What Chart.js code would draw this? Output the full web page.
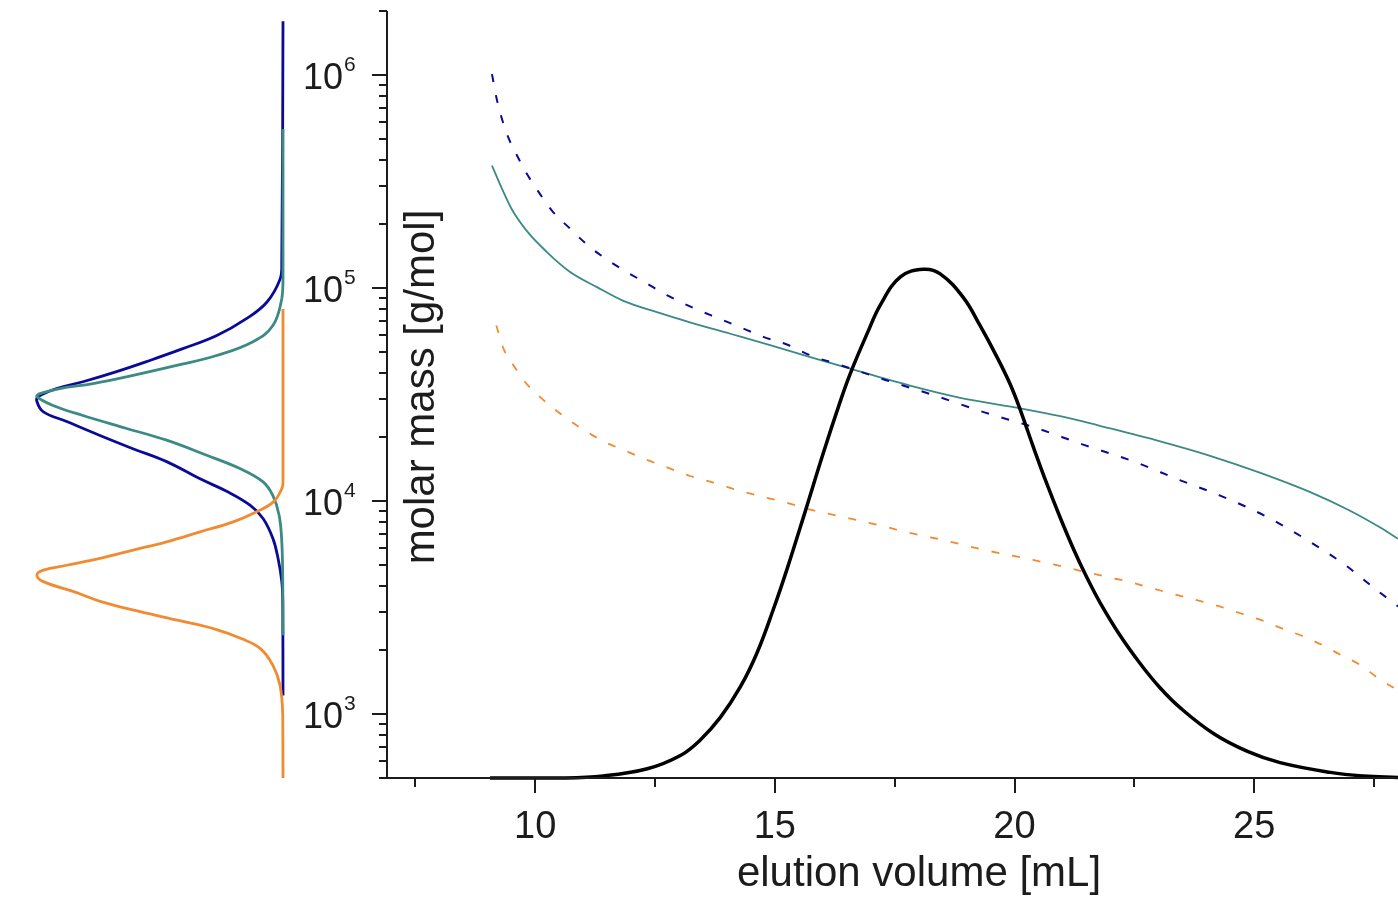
<!DOCTYPE html>
<html lang="en">
<head>
  <meta charset="UTF-8"/>
  <title>Molar mass vs. elution volume</title>
  <script src="https://cdn.jsdelivr.net/npm/chart.js"></script>
  <style>
    html, body { margin: 0; padding: 0; background: #fff; }
    #wrap { position: relative; width: 1398px; height: 902px; overflow: hidden; }
    #wrap canvas { position: absolute; top: 0; left: 0; }
  </style>
</head>
<body>
  <div id="wrap">
    <canvas id="mainChart" width="1398" height="902"></canvas>
    <canvas id="distChart" width="290" height="902"></canvas>
  </div>

  <script>
    // detector trace (arbitrary units)
    const elutionVolume = [9.06, 10.5, 11.42, 12.34, 13.03, 13.44, 13.86, 14.28, 14.63, 14.97, 15.26, 15.63, 16.01, 16.36, 16.57, 16.93, 17.2, 17.62, 18.1, 18.45, 18.93, 19.28, 19.63, 19.91, 20.12, 20.39, 20.68, 20.95, 21.23, 21.51, 21.79, 22.2, 22.62, 23.04, 23.46, 24.15, 24.86, 25.54, 26.59, 27.28, 28.0];
    const detectorSignal = [0, 0, 0.004, 0.018, 0.044, 0.074, 0.118, 0.178, 0.245, 0.33, 0.41, 0.52, 0.635, 0.735, 0.79, 0.87, 0.925, 0.98, 0.995, 0.986, 0.94, 0.885, 0.824, 0.77, 0.72, 0.648, 0.574, 0.51, 0.448, 0.392, 0.342, 0.279, 0.224, 0.176, 0.137, 0.087, 0.052, 0.03, 0.011, 0.004, 0.001];

    // molar mass curves
    const navyVolume = [9.10, 9.20, 9.31, 9.44, 9.62, 9.83, 10.10, 10.35, 10.73, 11.11, 11.52, 11.91, 12.33, 12.77, 13.23, 13.76, 14.24, 14.76, 15.28, 15.77, 16.29, 17.34, 18.35, 19.39, 20.43, 21.43, 22.46, 23.46, 24.29, 25.23, 26.13, 26.90, 27.50, 28.0];
    const navyMolarMass = [1.01e6, 7.7e5, 6.2e5, 5.1e5, 4.2e5, 3.43e5, 2.77e5, 2.31e5, 1.9e5, 1.58e5, 1.35e5, 1.19e5, 1.05e5, 9.2e4, 8.2e4, 7.3e4, 6.6e4, 5.9e4, 5.4e4, 4.8e4, 4.4e4, 3.68e4, 3.12e4, 2.6e4, 2.21e4, 1.84e4, 1.54e4, 1.25e4, 1.06e4, 8.5e3, 6.5e3, 5.0e3, 3.9e3, 3.2e3];

    const tealVolume = [9.10, 9.31, 9.51, 9.83, 10.24, 10.73, 11.29, 11.84, 12.54, 13.23, 14.07, 14.90, 15.74, 16.57, 17.82, 18.87, 20.01, 20.95, 22.00, 23.04, 24.08, 25.13, 26.17, 27.00, 27.63, 28.0];
    const tealMolarMass = [3.76e5, 2.92e5, 2.35e5, 1.85e5, 1.48e5, 1.19e5, 1.01e5, 8.7e4, 7.7e4, 6.9e4, 6.1e4, 5.4e4, 4.74e4, 4.18e4, 3.48e4, 3.05e4, 2.75e4, 2.5e4, 2.19e4, 1.905e4, 1.63e4, 1.355e4, 1.1e4, 9.0e3, 7.5e3, 6.64e3];

    const orangeVolume = [9.19, 9.34, 9.55, 9.79, 10.10, 10.66, 11.08, 11.46, 11.91, 12.36, 12.78, 13.23, 13.72, 14.24, 14.76, 15.18, 15.74, 16.22, 16.75, 17.27, 17.79, 18.31, 18.83, 19.35, 19.84, 20.36, 20.88, 21.37, 21.93, 22.45, 22.94, 23.53, 24.19, 24.71, 25.20, 25.58, 26.03, 26.45, 26.83, 27.21, 27.59, 28.0];
    const orangeMolarMass = [6.67e4, 5.19e4, 4.33e4, 3.62e4, 3.08e4, 2.44e4, 2.11e4, 1.89e4, 1.71e4, 1.55e4, 1.43e4, 1.31e4, 1.22e4, 1.12e4, 1.045e4, 9.9e3, 9.1e3, 8.6e3, 8.1e3, 7.6e3, 7.1e3, 6.7e3, 6.3e3, 5.9e3, 5.6e3, 5.3e3, 5.0e3, 4.7e3, 4.4e3, 4.14e3, 3.85e3, 3.55e3, 3.24e3, 2.97e3, 2.73e3, 2.52e3, 2.31e3, 2.09e3, 1.88e3, 1.70e3, 1.47e3, 1.29e3];

    // molar mass distributions (side panel, weight fraction normalised to 1)
    const navyDistMass = [1.79e6, 1.3e5, 1.1e5, 8.6e4, 7.2e4, 5.98e4, 5.19e4, 4.57e4, 4.05e4, 3.63e4, 3.37e4, 3.09e4, 2.93e4, 2.63e4, 2.36e4, 2.03e4, 1.76e4, 1.53e4, 1.27e4, 1.11e4, 9.55e3, 8.27e3, 6.66e3, 5.37e3, 4.19e3, 3.37e3, 1.22e3];
    const navyDistWeight = [0, 0.005, 0.012, 0.065, 0.147, 0.269, 0.407, 0.541, 0.676, 0.813, 0.92, 0.995, 1.0, 0.975, 0.879, 0.744, 0.61, 0.473, 0.337, 0.229, 0.134, 0.081, 0.041, 0.02, 0.005, 0.001, 0];

    const tealDistMass = [5.59e5, 1.1e5, 8.9e4, 6.67e4, 5.6e4, 4.82e4, 4.33e4, 3.89e4, 3.56e4, 3.37e4, 3.19e4, 3.09e4, 2.81e4, 2.52e4, 2.19e4, 1.93e4, 1.64e4, 1.42e4, 1.23e4, 1.06e4, 8.6e3, 6.46e3, 4.19e3, 2.34e3];
    const tealDistWeight = [0, 0, 0.005, 0.041, 0.122, 0.27, 0.432, 0.609, 0.772, 0.907, 0.988, 1.0, 0.935, 0.813, 0.635, 0.473, 0.31, 0.175, 0.081, 0.041, 0.016, 0.005, 0.001, 0];

    const orangeDistMass = [7.98e4, 1.23e4, 1.14e4, 9.9e3, 8.9e3, 7.98e3, 7.16e3, 6.43e3, 5.88e3, 5.37e3, 4.99e3, 4.73e3, 4.48e3, 4.18e3, 3.75e3, 3.37e3, 3.02e3, 2.74e3, 2.49e3, 2.26e3, 2.03e3, 1.69e3, 1.36e3, 984, 500];
    const orangeDistWeight = [0, 0, 0.005, 0.039, 0.107, 0.202, 0.337, 0.473, 0.609, 0.744, 0.879, 0.974, 1.0, 0.974, 0.85, 0.74, 0.58, 0.42, 0.27, 0.17, 0.093, 0.041, 0.012, 0.001, 0];

    // axes
    const xMajorTicks = [10, 15, 20, 25];
    const xMinorTicks = [7.5, 12.5, 17.5, 22.5, 27.5];
    const yDecades = [3, 4, 5, 6];
    const xTitle = 'elution volume [mL]';
    const yTitle = 'molar mass [g/mol]';

    const NAVY = '#0a0a98';
    const TEAL = '#3b8a83';
    const ORANGE = '#f18b31';
    const INK = '#1c1c1c';
    const FONT = '"Liberation Sans", Arial, sans-serif';

    const toPoints = (xs, ys) => xs.map((v, i) => ({ x: v, y: ys[i] }));

    const axesPlugin = {
      id: 'axes',
      afterDatasetsDraw(chart) {
        const { ctx, chartArea: a, scales: { x, y } } = chart;
        ctx.save();
        ctx.strokeStyle = INK;
        ctx.lineWidth = 2;
        ctx.beginPath();
        ctx.moveTo(a.left, a.top);
        ctx.lineTo(a.left, a.bottom);
        ctx.lineTo(a.right, a.bottom);
        ctx.stroke();

        // y ticks: decades long, 2..9 short
        ctx.beginPath();
        for (let d = 2; d <= 6; d++) {
          for (let m = 1; m <= 9; m++) {
            const v = m * Math.pow(10, d);
            if (v < y.min || v > y.max) continue;
            const py = Math.round(y.getPixelForValue(v));
            ctx.moveTo(a.left, py);
            ctx.lineTo(a.left - (m === 1 ? 15 : 8), py);
          }
        }
        // x ticks
        xMajorTicks.forEach(v => {
          const px = Math.round(x.getPixelForValue(v));
          ctx.moveTo(px, a.bottom);
          ctx.lineTo(px, a.bottom + 15);
        });
        xMinorTicks.forEach(v => {
          const px = Math.round(x.getPixelForValue(v));
          ctx.moveTo(px, a.bottom);
          ctx.lineTo(px, a.bottom + 9);
        });
        ctx.stroke();

        ctx.fillStyle = INK;
        // y labels 10^n
        yDecades.forEach(d => {
          const py = y.getPixelForValue(Math.pow(10, d));
          ctx.font = '36px ' + FONT;
          ctx.textAlign = 'right';
          ctx.textBaseline = 'alphabetic';
          ctx.fillText('10', a.left - 44, py + 14);
          ctx.font = '21px ' + FONT;
          ctx.textAlign = 'left';
          ctx.fillText(String(d), a.left - 43, py - 4);
        });

        // x labels
        ctx.font = '38px ' + FONT;
        ctx.textAlign = 'center';
        xMajorTicks.forEach(v => {
          ctx.fillText(String(v), x.getPixelForValue(v), a.bottom + 60);
        });

        // titles
        ctx.font = '42px ' + FONT;
        ctx.fillText(xTitle, 919, 886);
        ctx.translate(434, 387);
        ctx.rotate(-Math.PI / 2);
        ctx.fillText(yTitle, 0, 0);
        ctx.restore();
      }
    };

    const lineBase = { showLine: true, pointRadius: 0, clip: false };

    new Chart(document.getElementById('mainChart'), {
      type: 'scatter',
      data: {
        datasets: [
          { ...lineBase, label: 'detector', data: toPoints(elutionVolume, detectorSignal), yAxisID: 'ySig',
            borderColor: '#000', borderWidth: 3.5, tension: 0.4 },
          { ...lineBase, label: 'navy', data: toPoints(navyVolume, navyMolarMass),
            borderColor: NAVY, borderWidth: 2, borderDash: [8, 13], cubicInterpolationMode: 'monotone' },
          { ...lineBase, label: 'teal', data: toPoints(tealVolume, tealMolarMass),
            borderColor: TEAL, borderWidth: 1.8, cubicInterpolationMode: 'monotone' },
          { ...lineBase, label: 'orange', data: toPoints(orangeVolume, orangeMolarMass),
            borderColor: ORANGE, borderWidth: 1.8, borderDash: [8, 13], cubicInterpolationMode: 'monotone' }
        ]
      },
      options: {
        responsive: false,
        animation: false,
        layout: { padding: { left: 387, top: 11, right: 0, bottom: 124 } },
        plugins: { legend: { display: false }, tooltip: { enabled: false } },
        scales: {
          x: { type: 'linear', min: 6.91, max: 28.0, display: false },
          y: { type: 'logarithmic', min: 500, max: 2e6, display: false },
          ySig: { type: 'linear', min: 0, max: 1.5, display: false }
        }
      },
      plugins: [axesPlugin]
    });

    new Chart(document.getElementById('distChart'), {
      type: 'scatter',
      data: {
        datasets: [
          { ...lineBase, label: 'orange', data: toPoints(orangeDistWeight, orangeDistMass),
            borderColor: ORANGE, borderWidth: 2.8, tension: 0.4 },
          { ...lineBase, label: 'teal', data: toPoints(tealDistWeight, tealDistMass),
            borderColor: TEAL, borderWidth: 2.8, tension: 0.4 },
          { ...lineBase, label: 'navy', data: toPoints(navyDistWeight, navyDistMass),
            borderColor: NAVY, borderWidth: 2.8, tension: 0.4 }
        ]
      },
      options: {
        responsive: false,
        animation: false,
        layout: { padding: { left: 0, top: 11, right: 7, bottom: 124 } },
        plugins: { legend: { display: false }, tooltip: { enabled: false } },
        scales: {
          x: { type: 'linear', min: 0, max: 1.15, reverse: true, display: false },
          y: { type: 'logarithmic', min: 500, max: 2e6, display: false }
        }
      }
    });
  </script>
</body>
</html>
